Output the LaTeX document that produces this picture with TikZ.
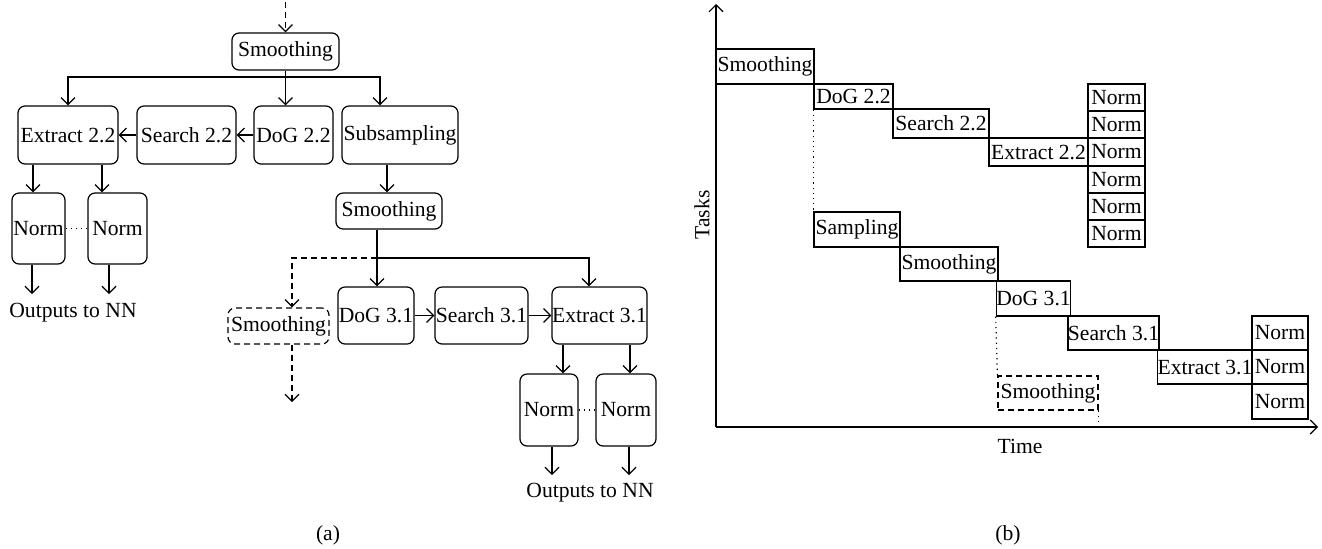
\documentclass[tikz,border=0pt]{standalone}
\usepackage{fontspec}
\setmainfont{Liberation Serif}
\usetikzlibrary{arrows.meta,calc}

% A box given by its corners: style, name, x1, y1, x2, y2, text
\newcommand\taskbox[7]{%
  \pgfmathsetmacro\tbW{(#5-#3)*0.5}%
  \pgfmathsetmacro\tbH{(#6-#4)*0.5}%
  \node[#1, minimum width=\tbW pt, minimum height=\tbH pt] (#2)
    at ({(#3+#5)/2},{(#4+#6)/2}) {#7};}

\begin{document}
\begin{tikzpicture}[x=0.5pt, y=-0.5pt, line width=0.6pt,
  every node/.style={font=\fontsize{10.8}{13}\selectfont},
  rbox/.style={draw, rounded corners=3.5pt, inner sep=0pt},
  dbox/.style={rbox, dash pattern=on 3pt off 2pt},
  sbox/.style={draw, inner sep=0pt},
  dsbox/.style={sbox, dash pattern=on 3pt off 2pt},
  arr/.style={-{Straight Barb[length=3.5pt,width=7pt]}},
  darr/.style={arr, dash pattern=on 3pt off 2pt},
  lbl/.style={inner sep=0pt}]
\useasboundingbox (0,0) rectangle (1322,548);

% ---------- (a) task graph ----------
\taskbox{rbox}{topsm}{232}{33}{339}{70}{Smoothing}
\taskbox{rbox}{ext22}{18}{106}{118}{164}{Extract 2.2}
\taskbox{rbox}{srch22}{137}{106}{236}{164}{Search 2.2}
\taskbox{rbox}{dog22}{254}{106}{333}{164}{DoG 2.2}
\taskbox{rbox}{subs}{342}{106}{458}{164}{Subsampling}
\taskbox{rbox}{nrmA}{12}{193}{65}{264}{Norm}
\taskbox{rbox}{nrmB}{88}{193}{147}{264}{Norm}
\taskbox{rbox}{sm2}{336}{193}{442}{229}{Smoothing}
\taskbox{dbox}{dsm}{228}{308}{329}{344}{Smoothing}
\taskbox{rbox}{dog31}{338}{287}{414}{344}{DoG 3.1}
\taskbox{rbox}{srch31}{435}{287}{528}{344}{Search 3.1}
\taskbox{rbox}{ext31}{552}{287}{647}{344}{Extract 3.1}
\taskbox{rbox}{nrmC}{520}{374}{578}{446}{Norm}
\taskbox{rbox}{nrmD}{596}{374}{656}{446}{Norm}

\node[lbl] (outL) at (73,313) {Outputs to NN};
\node[lbl] (outR) at (590,493) {Outputs to NN};
\node[lbl] (capa) at (328,535) {(a)};

% incoming data and first fan-out
\coordinate (feed) at (285.5,2);
\draw[darr] (feed) -- (topsm);
\coordinate (bus1) at (285.5,77);
\draw (topsm) -- (bus1);
\draw[arr] (bus1) -| (ext22);
\draw[arr] (bus1) -- (bus1 |- dog22.north);
\draw[arr] (bus1) -| ($(subs.north)+(-20,0)$);
\draw[arr] (dog22) -- (srch22);
\draw[arr] (srch22) -- (ext22);

% octave 2.2 normalisation
\coordinate (eA) at ($(ext22.south)+(-35,0)$);
\coordinate (eB) at ($(ext22.south)+(34,0)$);
\draw[arr] (eA) -- (eA |- nrmA.north);
\draw[arr] (eB) -- (eB |- nrmB.north);
\draw[dotted] (nrmA) -- (nrmB);
\coordinate (oA) at ($(nrmA.south)+(-6.5,0)$);
\coordinate (oB) at ($(nrmB.south)+(-8.5,0)$);
\coordinate (tipA) at (0,294);
\draw[arr] (oA) -- (oA |- tipA);
\draw[arr] (oB) -- (oB |- tipA);

% subsampling branch
\draw[arr] ($(subs.south)+(-13,0)$) -- ($(sm2.north)+(-2,0)$);
\coordinate (bus2) at (377,258);
\draw ($(sm2.south)+(-12,0)$) -- (bus2);
\draw[arr] (bus2) -- (bus2 |- dog31.north);
\draw[arr] (bus2) -| ($(ext31.north)+(-10.5,0)$);
\draw[darr] (bus2) -| ($(dsm.north)+(13.5,0)$);
\coordinate (dsmOut) at (292,402);
\draw[darr] ($(dsm.south)+(13.5,0)$) -- (dsmOut);
\draw[arr] (dog31) -- (srch31);
\draw[arr] (srch31) -- (ext31);

% octave 3.1 normalisation
\coordinate (eC) at ($(ext31.south)+(-36.5,0)$);
\coordinate (eD) at ($(ext31.south)+(30.5,0)$);
\draw[arr] (eC) -- (eC |- nrmC.north);
\draw[arr] (eD) -- (eD |- nrmD.north);
\draw[dotted] (nrmC) -- (nrmD);
\coordinate (oC) at ($(nrmC.south)+(3,0)$);
\coordinate (oD) at ($(nrmD.south)+(3,0)$);
\coordinate (tipC) at (0,475);
\draw[arr] (oC) -- (oC |- tipC);
\draw[arr] (oD) -- (oD |- tipC);

% ---------- (b) schedule over time ----------
\coordinate (orig) at (716,427);
\coordinate (ytop) at (716,4);
\coordinate (xend) at (1318,427);
\draw[arr] (orig) -- (ytop);
\draw[arr] (orig) -- (xend);
\node[lbl, rotate=90] (tasks) at (702,215) {Tasks};
\node[lbl] (time) at (1020,446) {Time};
\node[lbl] (capb) at (1008,535) {(b)};

\taskbox{sbox}{bsm1}{716}{49}{814}{84}{Smoothing}
\taskbox{sbox}{bdog22}{814}{84}{893}{109}{DoG 2.2}
\taskbox{sbox}{bsrch22}{893}{109}{989}{138}{Search 2.2}
\taskbox{sbox}{bext22}{989}{138}{1088}{166}{Extract 2.2}
\taskbox{sbox}{bnA1}{1088}{84}{1145}{111}{Norm}
\taskbox{sbox}{bnA2}{1088}{111}{1145}{138}{Norm}
\taskbox{sbox}{bnA3}{1088}{138}{1145}{166}{Norm}
\taskbox{sbox}{bnA4}{1088}{166}{1145}{193}{Norm}
\taskbox{sbox}{bnA5}{1088}{193}{1145}{220}{Norm}
\taskbox{sbox}{bnA6}{1088}{220}{1145}{247}{Norm}

\taskbox{sbox}{bsamp}{814}{212}{900}{247}{Sampling}
\taskbox{sbox}{bsm2}{900}{247}{998}{281}{Smoothing}
\taskbox{sbox}{bdog31}{998}{281}{1069}{316}{DoG 3.1}
\taskbox{sbox}{bsrch31}{1069}{316}{1158}{350}{Search 3.1}
\taskbox{sbox}{bext31}{1158}{350}{1252}{384}{Extract 3.1}
\taskbox{sbox}{bnB1}{1252}{316}{1308}{350}{Norm}
\taskbox{sbox}{bnB2}{1252}{350}{1308}{384}{Norm}
\taskbox{sbox}{bnB3}{1252}{384}{1308}{419}{Norm}
\taskbox{dsbox}{bdsm}{998}{376}{1098}{410}{Smoothing}

\draw[dotted] (bdog22.south west) -- (bsamp.north west);
\draw[dotted] (bdog31.south west) -- (bdsm.north west);
\draw[dotted] (bdsm.south east) -- (bdsm.south east |- orig);
\end{tikzpicture}
\end{document}
